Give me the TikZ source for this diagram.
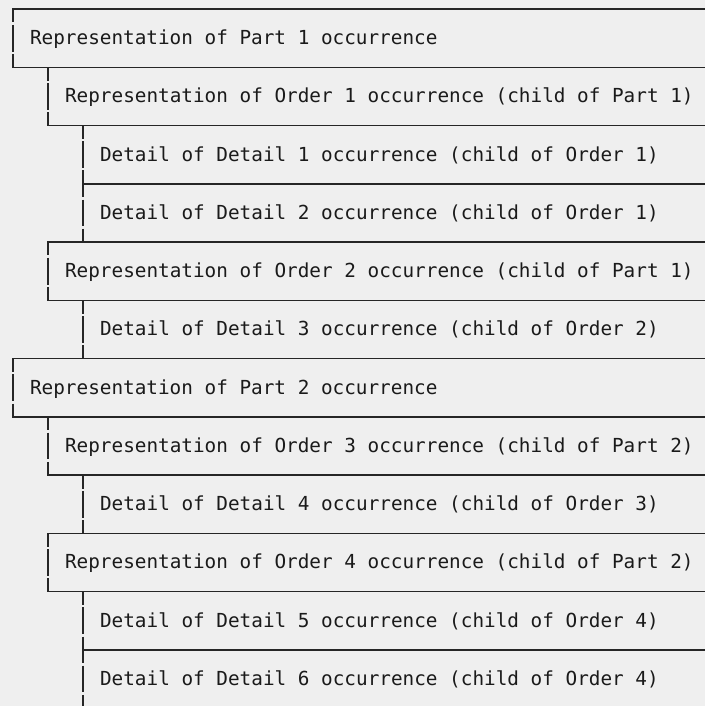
\documentclass[tikz,border=0pt]{standalone}
\usepackage{fontspec}
\setmonofont{DejaVu Sans Mono}
\definecolor{paper}{HTML}{EFEFEF}
\definecolor{ink}{HTML}{1A1A1A}
\definecolor{rule}{HTML}{262626}

\begin{document}
\begin{tikzpicture}[x=0.75pt, y=-21.851pt,
    hrule/.style={rule, line width=1.1pt, line cap=rect},
    vrule/.style={rule, line width=1.3pt, dash pattern=on 20.05pt off 1.8pt, dash phase=10.03pt},
    entry/.style={anchor=base west, inner sep=0pt, text=ink, font=\ttfamily\fontsize{14.5pt}{17pt}\selectfont}]

      % Background
      \fill[paper] (0, -0.309) rectangle (705, 23.923);
      \useasboundingbox (0, -0.309) rectangle (705, 23.923);

      % Texts
      \node[entry] (part1) at (29.8, 1.22) {Representation of Part 1 occurrence};
      \node[entry] (order1) at (64.8, 3.22) {Representation of Order 1 occurrence (child of Part 1)};
      \node[entry] (detail1) at (99.8, 5.22) {Detail of Detail 1 occurrence (child of Order 1)};
      \node[entry] (detail2) at (99.8, 7.22) {Detail of Detail 2 occurrence (child of Order 1)};
      \node[entry] (order2) at (64.8, 9.22) {Representation of Order 2 occurrence (child of Part 1)};
      \node[entry] (detail3) at (99.8, 11.22) {Detail of Detail 3 occurrence (child of Order 2)};
      \node[entry] (part2) at (29.8, 13.22) {Representation of Part 2 occurrence};
      \node[entry] (order3) at (64.8, 15.22) {Representation of Order 3 occurrence (child of Part 2)};
      \node[entry] (detail4) at (99.8, 17.22) {Detail of Detail 4 occurrence (child of Order 3)};
      \node[entry] (order4) at (64.8, 19.22) {Representation of Order 4 occurrence (child of Part 2)};
      \node[entry] (detail5) at (99.8, 21.22) {Detail of Detail 5 occurrence (child of Order 4)};
      \node[entry] (detail6) at (99.8, 23.22) {Detail of Detail 6 occurrence (child of Order 4)};

      % Horizontal borders
      \foreach \x/\y in {13.2/0, 13.2/2, 48.2/4, 83.2/6, 48.2/8, 48.2/10,
                         13.2/12, 13.2/14, 48.2/16, 48.2/18, 48.2/20, 83.2/22}
        \draw[hrule] (\x, \y) -- (705, \y);

      % Vertical borders
      \foreach \a/\b in {0/2, 12/14}
        \draw[vrule] (13.2, \a) -- (13.2, \b);
      \foreach \a/\b in {2/4, 8/10, 14/16, 18/20}
        \draw[vrule] (48.2, \a) -- (48.2, \b);
      \foreach \a/\b in {4/8, 10/12, 16/18, 20/23.923}
        \draw[vrule] (83.2, \a) -- (83.2, \b);
    \end{tikzpicture}
\end{document}
